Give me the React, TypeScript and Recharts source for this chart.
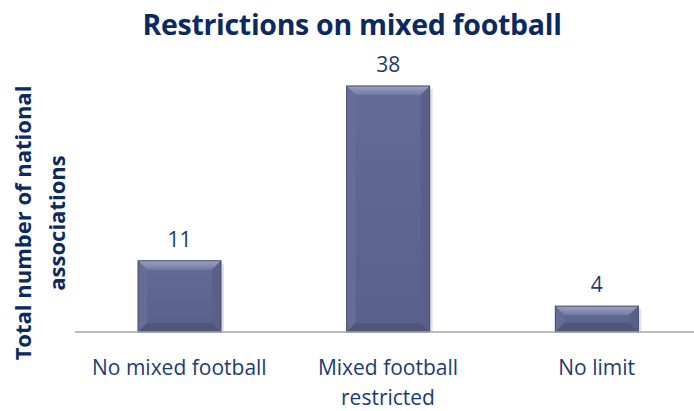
import React from "react";
import { BarChart, Bar, XAxis, YAxis, LabelList } from "recharts";

const categories = ["No mixed football", "Mixed football restricted", "No limit"];
const associations = [11, 38, 4];

const chartData = categories.map((name, i) => ({ name, value: associations[i] }));

const FONT = "'Open Sans', 'Noto Sans', sans-serif";
const TEXT_COLOR = "#1d3a78";

// simple greedy word wrap by character count
const wrapLabel = (label: string, maxChars: number) => {
    const lines: string[] = [];
    let current = "";
    label.split(" ").forEach((word) => {
        const next = current ? current + " " + word : word;
        if (next.length > maxChars && current) {
            lines.push(current);
            current = word;
        } else {
            current = next;
        }
    });
    if (current) lines.push(current);
    return lines;
};

// bevelled bar, like the Office "relaxed inset" look
const BevelBar = (props: any) => {
    const { x, y, width, height } = props;
    if (!height || height <= 0) return null;
    const b = Math.min(9, height / 2);
    return (
        <g>
            <rect x={x + 3} y={y + 3} width={width} height={height - 3} fill="rgba(0,0,0,0.12)" />
            <rect x={x} y={y} width={width} height={height} fill="url(#barBody)" />
            {/* top */}
            <polygon
                points={`${x},${y} ${x + width},${y} ${x + width - b},${y + b} ${x + b},${y + b}`}
                fill="url(#barTop)"
            />
            {/* left */}
            <polygon
                points={`${x},${y} ${x + b},${y + b} ${x + b},${y + height - b} ${x},${y + height}`}
                fill="#666e97"
            />
            {/* right */}
            <polygon
                points={`${x + width},${y} ${x + width},${y + height} ${x + width - b},${y + height - b} ${x + width - b},${y + b}`}
                fill="#59618a"
            />
            {/* bottom */}
            <polygon
                points={`${x},${y + height} ${x + b},${y + height - b} ${x + width - b},${y + height - b} ${x + width},${y + height}`}
                fill="#4f5679"
            />
            <rect x={x} y={y} width={width} height={height} fill="none" stroke="#454b6d" strokeWidth={1} />
        </g>
    );
};

const CategoryTick = (props: any) => {
    const { x, y, payload } = props;
    const lines = wrapLabel(String(payload.value), 17);
    return (
        <text
            x={x}
            y={y + 35}
            textAnchor="middle"
            fontFamily={FONT}
            fontSize={21}
            fill={TEXT_COLOR}
        >
            {lines.map((line, i) => (
                <tspan key={i} x={x} dy={i === 0 ? 0 : 30}>
                    {line}
                </tspan>
            ))}
        </text>
    );
};

export default function App() {
    return (
        <div
            style={{
                position: "absolute",
                left: 0,
                top: 0,
                width: 694,
                height: 411,
                overflow: "hidden",
                background: "#fff",
            }}
        >
            <div
                style={{
                    position: "absolute",
                    left: 0,
                    top: 5,
                    width: 704,
                    textAlign: "center",
                    fontFamily: FONT,
                    fontWeight: 700,
                    fontSize: 28.5,
                    color: "#0b2a62",
                    letterSpacing: -0.3,
                }}
            >
                Restrictions on mixed football
            </div>
            <div
                style={{
                    position: "absolute",
                    left: 39,
                    top: 223,
                    transform: "translate(-50%, -50%) rotate(-90deg)",
                    whiteSpace: "nowrap",
                    textAlign: "center",
                    fontFamily: FONT,
                    fontWeight: 700,
                    fontSize: 22,
                    lineHeight: "34px",
                    color: "#0b2a62",
                }}
            >
                Total number of national
                <br />
                associations
            </div>
            <BarChart
                width={702}
                height={411}
                data={chartData}
                margin={{ top: 73, right: 1, bottom: 49, left: 75 }}
                style={{ position: "absolute", left: 0, top: 0 }}
            >
                <defs>
                    <linearGradient id="barBody" x1="0" y1="0" x2="0" y2="1">
                        <stop offset="0%" stopColor="#646c96" />
                        <stop offset="100%" stopColor="#59608a" />
                    </linearGradient>
                    <linearGradient id="barTop" x1="0" y1="0" x2="0" y2="1">
                        <stop offset="0%" stopColor="#99a1c5" />
                        <stop offset="100%" stopColor="#737ba3" />
                    </linearGradient>
                </defs>
                <YAxis hide domain={[0, 40]} />
                <XAxis
                    dataKey="name"
                    height={30}
                    tickLine={false}
                    axisLine={{ stroke: "#a6a6a6", strokeWidth: 1.5 }}
                    tick={<CategoryTick />}
                    interval={0}
                />
                <Bar dataKey="value" barSize={83} shape={<BevelBar />} isAnimationActive={false}>
                    <LabelList
                        dataKey="value"
                        position="top"
                        offset={14}
                        fontFamily={FONT}
                        fontSize={21}
                        fill={TEXT_COLOR}
                    />
                </Bar>
            </BarChart>
        </div>
    );
}
